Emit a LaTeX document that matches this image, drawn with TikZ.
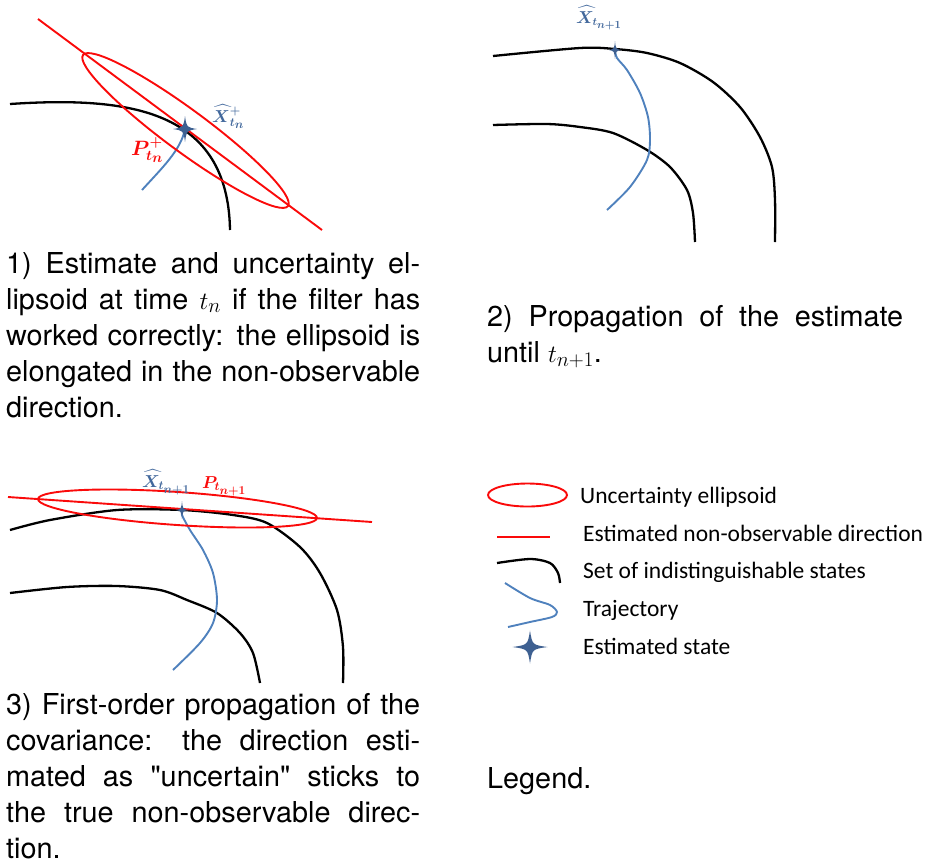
\documentclass[tikz,border=0pt]{standalone}
\usepackage{fontspec}
\usepackage{amsmath,bm}
\setmainfont{TeX Gyre Heros}
\newfontfamily\legfont{Carlito}
\definecolor{ered}{RGB}{250,10,10}
\definecolor{trajblue}{RGB}{79,129,189}
\definecolor{starblue}{RGB}{62,96,145}
\definecolor{labblue}{RGB}{66,104,156}
\tikzset{
  setline/.style={black,line width=2.3pt},
  redline/.style={ered,line width=1.9pt},
  trajline/.style={trajblue,line width=1.9pt},
  captext/.style={inner sep=0pt,anchor=base west,font=\fontsize{28.8pt}{36.1pt}\selectfont},
  legtext/.style={inner sep=0pt,anchor=base west,font=\legfont\fontsize{23.5pt}{28pt}\selectfont},
  bluelab/.style={inner sep=0pt,anchor=base west,text=labblue},
  redlab/.style={inner sep=0pt,anchor=base west,text=ered},
  estar/.pic={\fill[starblue] (0,-1) .. controls (0.13,-0.13) .. (1,0) .. controls (0.13,0.13) .. (0,1) .. controls (-0.13,0.13) .. (-1,0) .. controls (-0.13,-0.13) .. (0,-1) -- cycle;}
}
\begin{document}
\begin{tikzpicture}[x=1pt,y=-1pt]
\useasboundingbox (0,0) rectangle (934,863);
% ---------- Panel 1 ----------
\draw[setline] (10,104) .. controls (130,96) and (228,110) .. (230,230);
\coordinate (s1) at (185,129);
\draw[trajline] (142,190) .. controls (162,168) and (181,150) .. (s1);
\draw[redline] (38,19) -- (322,230);
\draw[redline,shift={(185.5,130.5)},rotate=-36.4] (0,0) ellipse [x radius=127.3pt,y radius=21pt];
\pic[xscale=12,yscale=13] at (s1) {estar};
\node[bluelab,font=\fontsize{18.5pt}{20pt}\selectfont] (x1) at (212,122) {$\widehat{\bm{X}}{}^{\bm +}_{\bm{t}_{\scriptstyle\bm{n}}}$};
\node[redlab,font=\fontsize{19.5pt}{21pt}\selectfont] (p1) at (131,155) {$\bm{P}^{\bm +}_{\bm{t}_{\scriptstyle\bm{n}}}$};
% ---------- Panel 2 ----------
\draw[setline] plot[smooth] coordinates {(493,56) (580,48) (615,49) (647,53) (680,63) (713,82) (740,107) (760,137) (772,167) (775,200) (775,242)};
\draw[setline] plot[smooth] coordinates {(493,125) (547,124) (580,127) (613,133) (647,150) (670,167) (687,190) (693,213) (695,242)};
\coordinate (s2) at (615,50);
\draw[trajline] plot[smooth] coordinates {(607,210) (630,187) (647,160) (650,140) (648,117) (640,93) (627,70) (617,58) (615,50)};
\pic[xscale=6,yscale=9] at (s2) {estar};
\node[bluelab,font=\fontsize{16pt}{17pt}\selectfont] (x2) at (576,23) {$\widehat{\bm{X}}_{\bm{t}_{\scriptstyle\bm{n+1}}}$};
% ---------- Panel 3 ----------
\draw[setline] plot[smooth] coordinates {(10,530) (50,520) (117,510) (182,510) (233,515) (267,523) (300,547) (320,573) (337,610) (343,647) (343,683)};
\draw[setline] plot[smooth] coordinates {(10,593) (67,587) (117,586) (160,590) (187,600) (217,613) (240,633) (253,653) (260,683)};
\coordinate (s3) at (182,510);
\draw[trajline] plot[smooth] coordinates {(173,670) (200,643) (213,623) (217,600) (213,573) (203,550) (190,530) (182,515) (182,510)};
\draw[redline] (8,497) -- (372,522);
\draw[redline,shift={(177.5,508.5)},rotate=-3.9] (0,0) ellipse [x radius=139.8pt,y radius=16.5pt];
\pic[xscale=6,yscale=9] at (s3) {estar};
\node[bluelab,font=\fontsize{16.5pt}{17pt}\selectfont] (x3) at (142,487) {$\widehat{\bm{X}}_{\bm{t}_{\scriptstyle\bm{n+1}}}$};
\node[redlab,font=\fontsize{16.5pt}{17pt}\selectfont] (p3) at (202,488) {$\bm{P}_{\bm{t}_{\scriptstyle\bm{n+1}}}$};
% ---------- Legend ----------
\draw[redline] (527.5,495) ellipse [x radius=39.5pt,y radius=11.5pt];
\draw[redline] (497,537) -- (550,537);
\draw[setline] plot[smooth] coordinates {(497,563) (530,559) (550,563) (558,573) (560,583)};
\draw[trajline] plot[smooth] coordinates {(505,583) (530,598) (550,605) (557,612) (552,617) (530,622) (508,627)};
\pic[xscale=17.5,yscale=16.5] at (530,647) {estar};
\node[legtext] (l1) at (580,503) {Uncertainty ellipsoid};
\node[legtext] (l2) at (583,541) {Estimated non-observable direction};
\node[legtext] (l3) at (583,578) {Set of indistinguishable states};
\node[legtext] (l4) at (583,616) {Trajectory};
\node[legtext] (l5) at (583,654) {Estimated state};
% ---------- Captions ----------
\node[captext] (c1) at (6,273) {\parbox[t]{414pt}{1) Estimate and uncertainty el-\linebreak lipsoid at time $t_n$ if the filter has\linebreak worked correctly: the ellipsoid is\linebreak elongated in the non-observable\linebreak direction.}};
\node[captext] (c2) at (487,326) {\parbox[t]{416pt}{2) Propagation of the estimate\linebreak until $t_{n+1}$.}};
\node[captext] (c3) at (6,714) {\parbox[t]{414pt}{3) First-order propagation of the\linebreak covariance: the direction esti-\linebreak mated as \textquotedbl uncertain\textquotedbl\ sticks to\linebreak the true non-observable direc-\linebreak tion.}};
\node[captext] (c4) at (487,788) {Legend.};
\end{tikzpicture}
\end{document}
